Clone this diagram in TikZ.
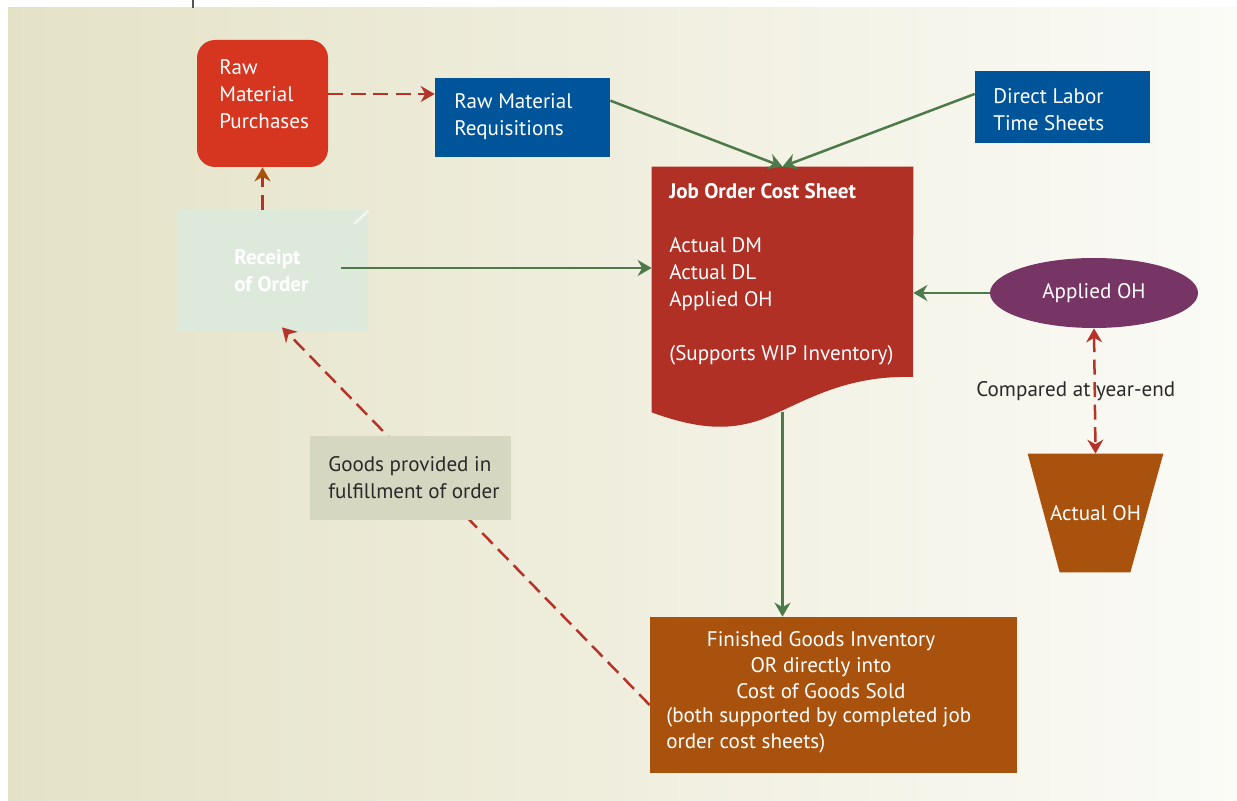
\documentclass[tikz,border=0pt]{standalone}
\usepackage{fontspec}
\setmainfont{PT Sans}
\usepackage{tikz}
\usetikzlibrary{arrows.meta,positioning,calc,shapes.geometric}
\definecolor{cRed}{HTML}{D63520}
\definecolor{cBlue}{HTML}{00559A}
\definecolor{cBrick}{HTML}{B03026}
\definecolor{cMint}{HTML}{DDEADB}
\definecolor{cPlum}{HTML}{763565}
\definecolor{cRust}{HTML}{A8520E}
\definecolor{cSage}{HTML}{D5D7C1}
\definecolor{cGreen}{HTML}{4E7A4A}
\definecolor{cDash}{HTML}{B5342A}
\definecolor{cInk}{HTML}{2A2A2A}
\definecolor{cBgL}{HTML}{E4E2C6}
\definecolor{cBgM}{HTML}{EEEDD9}
\definecolor{cBgR}{HTML}{FBFBF7}
\newcommand{\dgfont}{\fontsize{12}{15.4}\selectfont}

\begin{document}
\begin{tikzpicture}[x=0.2mm, y=-0.2mm, font=\dgfont, >={Stealth[length=2.8mm,width=3.2mm]},
  box/.style={fill=#1, draw=none, inner sep=0pt},
  box/.default=cBlue,
  txt/.style={text=white, align=left, inner sep=0pt, anchor=west},
  flow/.style={draw=cGreen, line width=0.5mm, ->},
  link/.style={draw=cDash, line width=0.5mm, dash pattern=on 3mm off 1.5mm, ->}]
  \useasboundingbox (0,0) rectangle (1237,801);
  \shade[left color=cBgL, middle color=cBgM, right color=cBgR] (8,8) rectangle (1237,800);
  \draw[cInk!80, line width=0.3mm] (193,0) -- (193,8);
  % inputs
  \node[box=cRed, rounded corners=3.6mm, minimum width=26.2mm, minimum height=25.4mm] (rmp) at (262.5,103.5) {};
  \node[txt] (rmptext) at (219,94) {Raw\\Material\\Purchases};
  \node[box, minimum width=35mm, minimum height=15.8mm] (rmr) at (522.5,117.5) {};
  \node[txt] (rmrtext) at (454,116.5) {Raw Material\\Requisitions};
  \node[box, minimum width=35mm, minimum height=14.4mm] (dlts) at (1062.5,107) {};
  \node[txt] (dltstext) at (993,109.5) {Direct Labor\\Time Sheets};
  \node[box=cMint, minimum width=38.2mm, minimum height=24.4mm] (rcpt) at (272.5,271) {};
  \draw[white!55!cMint, line width=0.5mm] ($(rcpt.north east)+(-14,14)$) -- ($(rcpt.north east)+(0,1)$);
  \node[txt, font=\dgfont\bfseries] (rcpttext) at (234,271) {Receipt\\of Order};
  % job order cost sheet
  \node[minimum width=52.2mm, minimum height=49mm, inner sep=0pt] (jocs) at (782.5,289.5) {};
  \fill[cBrick] (jocs.north west) -- (jocs.north east) -- (913,377)
    .. controls (840,375) and (800,405) .. (760,420)
    .. controls (730,430) and (700,430) .. (jocs.south west) -- cycle;
  \node[txt] (jocstext) at (669,274)
    {\textbf{Job Order Cost Sheet}\\[15.4pt]Actual DM\\Actual DL\\Applied OH\\[15.4pt](Supports WIP Inventory)};
  % overhead
  \node[ellipse, fill=cPlum, minimum width=41.6mm, minimum height=14mm, inner sep=0pt, text=white] (apoh) at (1094,293) {Applied OH};
  \node[minimum width=27mm, minimum height=23.6mm, inner sep=0pt] (acoh) at (1095.5,513) {};
  \fill[cRust] (acoh.north west) -- (acoh.north east) -- ($(acoh.south east)+(-33,0)$) -- ($(acoh.south west)+(32,0)$) -- cycle;
  \node[text=white, inner sep=0pt] (acohtext) at (acoh.center) {Actual OH};
  % output
  \node[box=cRust, minimum width=73.4mm, minimum height=31.2mm] (fg) at (833.5,695) {};
  \node[txt, align=center, anchor=center, font=\fontsize{12}{14.8}\selectfont] (fgtop) at (821,665)
    {Finished Goods Inventory\\OR directly into\\Cost of Goods Sold};
  \node[txt, font=\fontsize{12}{14.8}\selectfont] (fgnote) at (666,730) {(both supported by completed job\\order cost sheets)};
  % connectors
  \draw[link] (rmp.east |- rmptext.west) -- (rmr.west |- rmptext.west);
  \draw[link, -{Stealth[length=2.8mm,width=3.2mm,color=cRust]}] (rcpt.north -| rmp.south) -- (rmp.south);
  \draw[flow] ($(rmr.north east)+(0,23)$) -- (jocs.north);
  \draw[flow] ($(dlts.west)+(0,-13)$) -- (jocs.north);
  \coordinate (rcptout) at ($(rcpt.center)+(68.5,-3)$);
  \draw[flow] (rcptout) -- (rcptout -| jocs.west);
  \draw[flow] (apoh.west) -- (apoh.west -| jocs.east);
  \draw[flow] (jocs.south) -- (jocs.south |- fg.north);
  \draw[link, <->] (apoh.south) -- node[text=cInk, xshift=-3.8mm, inner sep=0pt] (cmp) {Compared at year-end} (acoh.north);
  \draw[link] ($(fg.west)+(0,10)$) -- ($(rcpt.south)+(9.5,-5)$);
  \node[box=cSage, minimum width=40.2mm, minimum height=16.8mm] (goods) at (410.5,478) {};
  \node[txt, text=cInk] (goodstext) at (328,478) {Goods provided in\\fulfillment of order};
\end{tikzpicture}
\end{document}
